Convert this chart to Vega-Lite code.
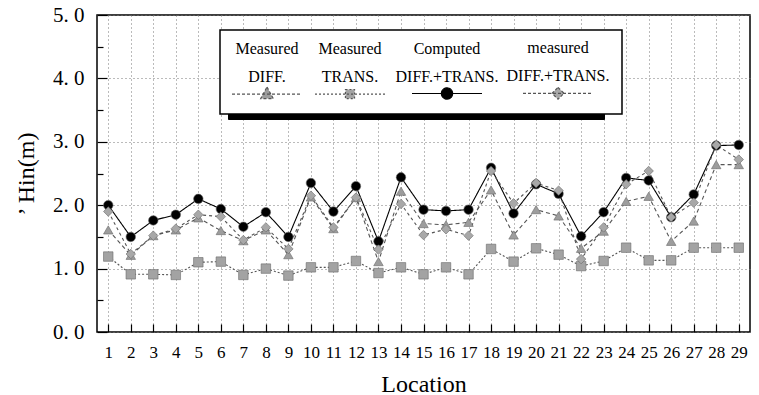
{
  "$schema": "https://vega.github.io/schema/vega-lite/v6.json",
  "width": 653,
  "height": 317,
  "autosize": "none",
  "padding": {"left": 97, "top": 15, "right": 9, "bottom": 63},
  "background": "white",
  "config": {
    "view": {"stroke": "black", "strokeWidth": 1.5},
    "font": "Liberation Serif",
    "axis": {
      "labelFont": "Liberation Serif",
      "titleFont": "Liberation Serif",
      "labelColor": "black",
      "titleColor": "black",
      "titleFontWeight": "normal",
      "domain": false,
      "gridColor": "#777777",
      "gridDash": [1, 3],
      "gridWidth": 1,
      "tickColor": "black",
      "tickWidth": 1.2
    }
  },
  "datasets": {
    "hin": [
      {"loc": 1, "series": "Computed DIFF.+TRANS.", "value": 2.00},
      {"loc": 2, "series": "Computed DIFF.+TRANS.", "value": 1.50},
      {"loc": 3, "series": "Computed DIFF.+TRANS.", "value": 1.76},
      {"loc": 4, "series": "Computed DIFF.+TRANS.", "value": 1.85},
      {"loc": 5, "series": "Computed DIFF.+TRANS.", "value": 2.10},
      {"loc": 6, "series": "Computed DIFF.+TRANS.", "value": 1.94},
      {"loc": 7, "series": "Computed DIFF.+TRANS.", "value": 1.66},
      {"loc": 8, "series": "Computed DIFF.+TRANS.", "value": 1.89},
      {"loc": 9, "series": "Computed DIFF.+TRANS.", "value": 1.50},
      {"loc": 10, "series": "Computed DIFF.+TRANS.", "value": 2.35},
      {"loc": 11, "series": "Computed DIFF.+TRANS.", "value": 1.90},
      {"loc": 12, "series": "Computed DIFF.+TRANS.", "value": 2.30},
      {"loc": 13, "series": "Computed DIFF.+TRANS.", "value": 1.43},
      {"loc": 14, "series": "Computed DIFF.+TRANS.", "value": 2.44},
      {"loc": 15, "series": "Computed DIFF.+TRANS.", "value": 1.93},
      {"loc": 16, "series": "Computed DIFF.+TRANS.", "value": 1.91},
      {"loc": 17, "series": "Computed DIFF.+TRANS.", "value": 1.93},
      {"loc": 18, "series": "Computed DIFF.+TRANS.", "value": 2.59},
      {"loc": 19, "series": "Computed DIFF.+TRANS.", "value": 1.87},
      {"loc": 20, "series": "Computed DIFF.+TRANS.", "value": 2.33},
      {"loc": 21, "series": "Computed DIFF.+TRANS.", "value": 2.18},
      {"loc": 22, "series": "Computed DIFF.+TRANS.", "value": 1.51},
      {"loc": 23, "series": "Computed DIFF.+TRANS.", "value": 1.89},
      {"loc": 24, "series": "Computed DIFF.+TRANS.", "value": 2.43},
      {"loc": 25, "series": "Computed DIFF.+TRANS.", "value": 2.39},
      {"loc": 26, "series": "Computed DIFF.+TRANS.", "value": 1.81},
      {"loc": 27, "series": "Computed DIFF.+TRANS.", "value": 2.17},
      {"loc": 28, "series": "Computed DIFF.+TRANS.", "value": 2.94},
      {"loc": 29, "series": "Computed DIFF.+TRANS.", "value": 2.95},
      {"loc": 1, "series": "Measured DIFF.", "value": 1.61},
      {"loc": 2, "series": "Measured DIFF.", "value": 1.21},
      {"loc": 3, "series": "Measured DIFF.", "value": 1.52},
      {"loc": 4, "series": "Measured DIFF.", "value": 1.61},
      {"loc": 5, "series": "Measured DIFF.", "value": 1.80},
      {"loc": 6, "series": "Measured DIFF.", "value": 1.60},
      {"loc": 7, "series": "Measured DIFF.", "value": 1.44},
      {"loc": 8, "series": "Measured DIFF.", "value": 1.61},
      {"loc": 9, "series": "Measured DIFF.", "value": 1.22},
      {"loc": 10, "series": "Measured DIFF.", "value": 2.13},
      {"loc": 11, "series": "Measured DIFF.", "value": 1.63},
      {"loc": 12, "series": "Measured DIFF.", "value": 2.12},
      {"loc": 13, "series": "Measured DIFF.", "value": 1.11},
      {"loc": 14, "series": "Measured DIFF.", "value": 2.22},
      {"loc": 15, "series": "Measured DIFF.", "value": 1.71},
      {"loc": 16, "series": "Measured DIFF.", "value": 1.69},
      {"loc": 17, "series": "Measured DIFF.", "value": 1.73},
      {"loc": 18, "series": "Measured DIFF.", "value": 2.24},
      {"loc": 19, "series": "Measured DIFF.", "value": 1.53},
      {"loc": 20, "series": "Measured DIFF.", "value": 1.93},
      {"loc": 21, "series": "Measured DIFF.", "value": 1.83},
      {"loc": 22, "series": "Measured DIFF.", "value": 1.32},
      {"loc": 23, "series": "Measured DIFF.", "value": 1.59},
      {"loc": 24, "series": "Measured DIFF.", "value": 2.06},
      {"loc": 25, "series": "Measured DIFF.", "value": 2.14},
      {"loc": 26, "series": "Measured DIFF.", "value": 1.43},
      {"loc": 27, "series": "Measured DIFF.", "value": 1.75},
      {"loc": 28, "series": "Measured DIFF.", "value": 2.64},
      {"loc": 29, "series": "Measured DIFF.", "value": 2.64},
      {"loc": 1, "series": "Measured TRANS.", "value": 1.19},
      {"loc": 2, "series": "Measured TRANS.", "value": 0.91},
      {"loc": 3, "series": "Measured TRANS.", "value": 0.91},
      {"loc": 4, "series": "Measured TRANS.", "value": 0.90},
      {"loc": 5, "series": "Measured TRANS.", "value": 1.10},
      {"loc": 6, "series": "Measured TRANS.", "value": 1.11},
      {"loc": 7, "series": "Measured TRANS.", "value": 0.90},
      {"loc": 8, "series": "Measured TRANS.", "value": 1.00},
      {"loc": 9, "series": "Measured TRANS.", "value": 0.89},
      {"loc": 10, "series": "Measured TRANS.", "value": 1.02},
      {"loc": 11, "series": "Measured TRANS.", "value": 1.02},
      {"loc": 12, "series": "Measured TRANS.", "value": 1.12},
      {"loc": 13, "series": "Measured TRANS.", "value": 0.93},
      {"loc": 14, "series": "Measured TRANS.", "value": 1.02},
      {"loc": 15, "series": "Measured TRANS.", "value": 0.91},
      {"loc": 16, "series": "Measured TRANS.", "value": 1.02},
      {"loc": 17, "series": "Measured TRANS.", "value": 0.91},
      {"loc": 18, "series": "Measured TRANS.", "value": 1.31},
      {"loc": 19, "series": "Measured TRANS.", "value": 1.11},
      {"loc": 20, "series": "Measured TRANS.", "value": 1.32},
      {"loc": 21, "series": "Measured TRANS.", "value": 1.22},
      {"loc": 22, "series": "Measured TRANS.", "value": 1.04},
      {"loc": 23, "series": "Measured TRANS.", "value": 1.12},
      {"loc": 24, "series": "Measured TRANS.", "value": 1.33},
      {"loc": 25, "series": "Measured TRANS.", "value": 1.13},
      {"loc": 26, "series": "Measured TRANS.", "value": 1.13},
      {"loc": 27, "series": "Measured TRANS.", "value": 1.33},
      {"loc": 28, "series": "Measured TRANS.", "value": 1.33},
      {"loc": 29, "series": "Measured TRANS.", "value": 1.33},
      {"loc": 1, "series": "measured DIFF.+TRANS.", "value": 1.90},
      {"loc": 2, "series": "measured DIFF.+TRANS.", "value": 1.23},
      {"loc": 3, "series": "measured DIFF.+TRANS.", "value": 1.52},
      {"loc": 4, "series": "measured DIFF.+TRANS.", "value": 1.63},
      {"loc": 5, "series": "measured DIFF.+TRANS.", "value": 1.85},
      {"loc": 6, "series": "measured DIFF.+TRANS.", "value": 1.82},
      {"loc": 7, "series": "measured DIFF.+TRANS.", "value": 1.45},
      {"loc": 8, "series": "measured DIFF.+TRANS.", "value": 1.65},
      {"loc": 9, "series": "measured DIFF.+TRANS.", "value": 1.31},
      {"loc": 10, "series": "measured DIFF.+TRANS.", "value": 2.15},
      {"loc": 11, "series": "measured DIFF.+TRANS.", "value": 1.65},
      {"loc": 12, "series": "measured DIFF.+TRANS.", "value": 2.12},
      {"loc": 13, "series": "measured DIFF.+TRANS.", "value": 1.30},
      {"loc": 14, "series": "measured DIFF.+TRANS.", "value": 2.02},
      {"loc": 15, "series": "measured DIFF.+TRANS.", "value": 1.53},
      {"loc": 16, "series": "measured DIFF.+TRANS.", "value": 1.62},
      {"loc": 17, "series": "measured DIFF.+TRANS.", "value": 1.52},
      {"loc": 18, "series": "measured DIFF.+TRANS.", "value": 2.54},
      {"loc": 19, "series": "measured DIFF.+TRANS.", "value": 2.03},
      {"loc": 20, "series": "measured DIFF.+TRANS.", "value": 2.35},
      {"loc": 21, "series": "measured DIFF.+TRANS.", "value": 2.23},
      {"loc": 22, "series": "measured DIFF.+TRANS.", "value": 1.15},
      {"loc": 23, "series": "measured DIFF.+TRANS.", "value": 1.65},
      {"loc": 24, "series": "measured DIFF.+TRANS.", "value": 2.33},
      {"loc": 25, "series": "measured DIFF.+TRANS.", "value": 2.54},
      {"loc": 26, "series": "measured DIFF.+TRANS.", "value": 1.81},
      {"loc": 27, "series": "measured DIFF.+TRANS.", "value": 2.04},
      {"loc": 28, "series": "measured DIFF.+TRANS.", "value": 2.95},
      {"loc": 29, "series": "measured DIFF.+TRANS.", "value": 2.72}
    ]
  },
  "data": {"name": "hin"},
  "encoding": {
    "x": {
      "field": "loc",
      "type": "ordinal",
      "scale": {"type": "point", "padding": 0.5},
      "axis": {
        "title": "Location",
        "titleFontSize": 24,
        "titlePadding": 12,
        "labelFontSize": 17,
        "labelAngle": 0,
        "labelPadding": 20,
        "tickSize": -8,
        "grid": true
      }
    },
    "y": {
      "field": "value",
      "type": "quantitative",
      "scale": {"domain": [0, 5], "nice": false},
      "axis": {
        "title": "’  Hin(m)",
        "titleFontSize": 24,
        "titlePadding": 14,
        "values": [0, 0.5, 1, 1.5, 2, 2.5, 3, 3.5, 4, 4.5, 5],
        "labelExpr": "datum.value % 1 === 0 ? replace(format(datum.value, '.1f'), '.', '. ') : ''",
        "labelFontSize": 21,
        "labelPadding": 23,
        "labelFlush": false,
        "labelOverlap": false,
        "tickSize": {"condition": {"test": "datum.value % 1 !== 0", "value": -6}, "value": -10},
        "gridOpacity": {"condition": {"test": "datum.value % 1 !== 0", "value": 0}, "value": 1},
        "grid": true
      }
    }
  },
  "layer": [
    {
      "mark": {"type": "line", "strokeWidth": 1.1},
      "encoding": {
        "stroke": {
          "field": "series",
          "type": "nominal",
          "scale": {
            "domain": ["Computed DIFF.+TRANS.", "Measured DIFF.", "Measured TRANS.", "measured DIFF.+TRANS."],
            "range": ["#000000", "#555555", "#555555", "#555555"]
          },
          "legend": null
        },
        "strokeDash": {
          "field": "series",
          "type": "nominal",
          "scale": {
            "domain": ["Computed DIFF.+TRANS.", "Measured DIFF.", "Measured TRANS.", "measured DIFF.+TRANS."],
            "range": [[1, 0], [4, 3], [2, 2], [3, 3]]
          },
          "legend": null
        }
      }
    },
    {
      "mark": {"type": "point", "filled": true, "size": 90, "opacity": 1, "stroke": "#6a6a6a", "strokeWidth": 0.6},
      "encoding": {
        "color": {
          "field": "series",
          "type": "nominal",
          "scale": {
            "domain": ["Measured DIFF.", "Measured TRANS.", "Computed DIFF.+TRANS.", "measured DIFF.+TRANS."],
            "range": ["#9d9d9d", "#a3a3a3", "#000000", "#a8a8a8"]
          },
          "legend": {
            "orient": "none",
            "legendX": 123,
            "legendY": 15,
            "direction": "horizontal",
            "columns": 4,
            "title": " ",
            "titleFontSize": 1,
            "titlePadding": 10,
            "fillColor": "white",
            "strokeColor": "black",
            "padding": 12,
            "columnPadding": 7,
            "symbolSize": 4900,
            "labelFont": "Liberation Serif",
            "labelFontSize": 16,
            "labelColor": "black",
            "labelLimit": 300,
            "labelAlign": "center",
            "labelBaseline": "bottom",
            "labelExpr": "split(datum.label, ' ')",
            "zindex": 2,
            "encoding": {
              "legend": {"strokeWidth": {"value": 1.5}},
              "symbols": {
                "x": {"value": 35},
                "y": {"value": 40},
                "size": {"value": 4900},
                "shape": {"value": {"expr": "datum.value === 'Computed DIFF.+TRANS.' ? 'M-1,0H1M-0.16,0A0.16,0.16,0,1,0,0.16,0A0.16,0.16,0,1,0,-0.16,0Z' : datum.value === 'Measured DIFF.' ? 'M-1,0H1M0,-0.2L0.18,0.13L-0.18,0.13Z' : datum.value === 'Measured TRANS.' ? 'M-1,0H1M-0.13,-0.13H0.13V0.13H-0.13Z' : 'M-1,0H1M0,-0.17L0.17,0L0,0.17L-0.17,0Z'"}},
                "fill": {"value": {"expr": "datum.value === 'Computed DIFF.+TRANS.' ? '#000000' : '#a0a0a0'"}},
                "stroke": {"value": {"expr": "datum.value === 'Computed DIFF.+TRANS.' ? '#000000' : '#555555'"}},
                "strokeDash": {"value": {"expr": "datum.value === 'Computed DIFF.+TRANS.' ? [1, 0] : datum.value === 'Measured TRANS.' ? [2, 2] : [3, 2]"}},
                "strokeWidth": {"value": 1.2},
                "opacity": {"value": 1}
              },
              "labels": {
                "x": {"value": 35},
                "y": {"value": 3},
                "lineHeight": {"value": 28}
              }
            }
          }
        },
        "shape": {
          "field": "series",
          "type": "nominal",
          "scale": {
            "domain": ["Computed DIFF.+TRANS.", "Measured DIFF.", "Measured TRANS.", "measured DIFF.+TRANS."],
            "range": ["circle", "triangle-up", "square", "diamond"]
          },
          "legend": null
        }
      }
    },
    {
      "mark": {"type": "point", "opacity": 0},
      "encoding": {
        "fill": {
          "field": "series",
          "type": "nominal",
          "scale": {
            "domain": ["measured DIFF.+TRANS.", "Computed DIFF.+TRANS.", "Measured TRANS.", "Measured DIFF."]
          },
          "legend": {
            "orient": "none",
            "legendX": 131,
            "legendY": 23,
            "direction": "horizontal",
            "columns": 4,
            "title": " ",
            "titleFontSize": 1,
            "titlePadding": 10,
            "fillColor": "black",
            "strokeColor": "black",
            "padding": 12,
            "columnPadding": 7,
            "symbolSize": 4900,
            "labelFont": "Liberation Serif",
            "labelFontSize": 16,
            "labelLimit": 300,
            "labelAlign": "center",
            "labelBaseline": "bottom",
            "labelExpr": "split(datum.label, ' ')",
            "zindex": 1,
            "encoding": {
              "symbols": {
                "x": {"value": 35},
                "y": {"value": 40},
                "size": {"value": 4900},
                "shape": {"value": "M-1,0H1M0,-0.17L0.17,0L0,0.17L-0.17,0Z"},
                "opacity": {"value": 0}
              },
              "labels": {
                "x": {"value": 35},
                "y": {"value": 3},
                "lineHeight": {"value": 28},
                "opacity": {"value": 0}
              }
            }
          }
        }
      }
    }
  ]
}
